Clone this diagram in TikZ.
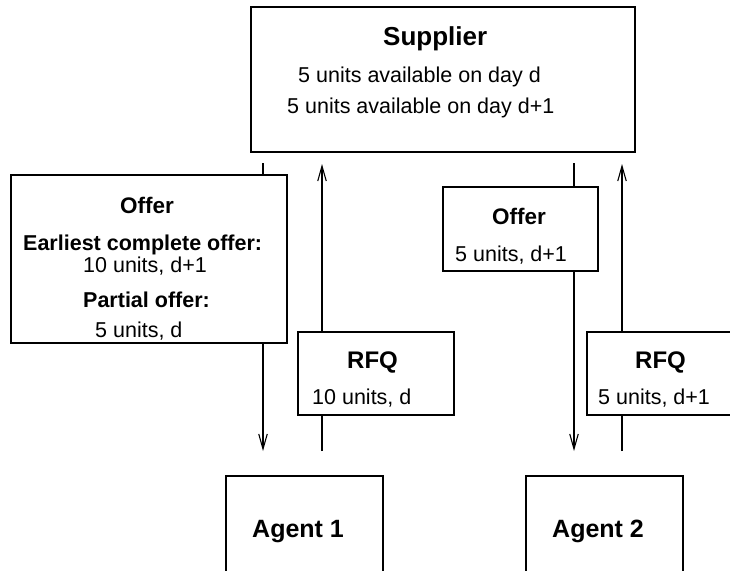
\documentclass[tikz,border=0pt]{standalone}
\usepackage{fontspec}
\setmainfont{Liberation Sans}
\usetikzlibrary{arrows.meta}
\begin{document}
\begin{tikzpicture}[x=1pt,y=-1pt,
  box/.style={draw, fill=white, line width=1.2pt, inner sep=0pt, rectangle},
  conn/.style={line width=1.2pt, -{Straight Barb[length=15pt,width=8.5pt,line width=1.1pt]}},
  txt/.style={anchor=base west, inner sep=0pt, font=\fontsize{21.5}{25}\selectfont},
  head/.style={anchor=base west, inner sep=0pt, font=\bfseries\fontsize{#1}{#1}\selectfont}]
\useasboundingbox (0,0) rectangle (730,570);
\clip (0,0) rectangle (730,570);
% supplier
\node[box, minimum width=384pt, minimum height=145pt] (sup) at (443,79.5) {};
\node[head=26] (supT) at (383,45) {Supplier};
\node[txt] (supA) at (298,82) {5 units available on day d};
\node[txt] (supB) at (287,113) {5 units available on day d+1};
% agents
\node[box, minimum width=157pt, minimum height=130pt] (ag1) at (304.5,541) {};
\node[box, minimum width=157pt, minimum height=130pt] (ag2) at (604.5,541) {};
\node[head=25] (ag1T) at (252,537) {Agent 1};
\node[head=25] (ag2T) at (552,537) {Agent 2};
% connector coordinates
\coordinate (d1s) at (263,163); \coordinate (d1e) at (263,451);
\coordinate (u1s) at (322,451); \coordinate (u1e) at (322,164);
\coordinate (d2s) at (574,163); \coordinate (d2e) at (574,451);
\coordinate (u2s) at (622,451); \coordinate (u2e) at (622,164);
\draw[conn] (d1s) -- (d1e);
\draw[conn] (u1s) -- (u1e);
\draw[conn] (d2s) -- (d2e);
\draw[conn] (u2s) -- (u2e);
% offer 1
\node[box, minimum width=276pt, minimum height=168pt] (off1) at (149,259) {};
\node[head=22.5] (off1T) at (120,213) {Offer};
\node[head=21.5] (off1E) at (23,250) {Earliest complete offer:};
\node[txt] (off1A) at (83,272) {10 units, d+1};
\node[head=21.5] (off1P) at (83,307) {Partial offer:};
\node[txt] (off1B) at (95,337) {5 units, d};
% offer 2
\node[box, minimum width=155pt, minimum height=84pt] (off2) at (520.5,229) {};
\node[head=22.5] (off2T) at (492,224) {Offer};
\node[txt] (off2A) at (455,261) {5 units, d+1};
% RFQ 1
\node[box, minimum width=156pt, minimum height=83pt] (rfq1) at (376,373.5) {};
\node[head=24] (rfq1T) at (347,368) {RFQ};
\node[txt] (rfq1A) at (312,404) {10 units, d};
% RFQ 2
\node[box, minimum width=160pt, minimum height=83pt] (rfq2) at (667,373.5) {};
\node[head=24] (rfq2T) at (635,368) {RFQ};
\node[txt] (rfq2A) at (598,404) {5 units, d+1};
\end{tikzpicture}
\end{document}
